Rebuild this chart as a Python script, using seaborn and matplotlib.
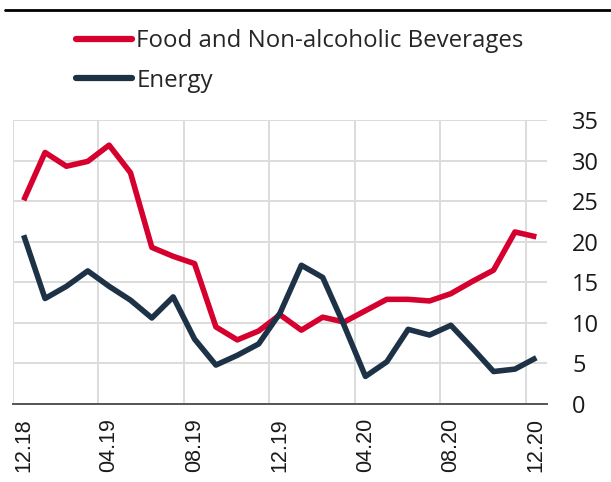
import numpy as np
import pandas as pd
import matplotlib
matplotlib.use('Agg')
import matplotlib.pyplot as plt
import seaborn as sns
from matplotlib.lines import Line2D
from matplotlib.ticker import MultipleLocator, FixedLocator

# monthly data, 12.18 - 12.20
months = ['12.18', '01.19', '02.19', '03.19', '04.19', '05.19', '06.19', '07.19',
          '08.19', '09.19', '10.19', '11.19', '12.19', '01.20', '02.20', '03.20',
          '04.20', '05.20', '06.20', '07.20', '08.20', '09.20', '10.20', '11.20', '12.20']
food = [25.1, 31.0, 29.3, 29.9, 31.9, 28.5, 19.3, 18.2, 17.3, 9.5, 7.9, 9.0, 11.0,
        9.1, 10.7, 10.1, 11.5, 12.9, 12.9, 12.7, 13.6, 15.1, 16.5, 21.2, 20.6]
energy = [20.8, 13.0, 14.5, 16.4, 14.5, 12.8, 10.6, 13.2, 8.0, 4.8, 6.0, 7.4, 11.2,
          17.1, 15.6, 9.7, 3.4, 5.2, 9.2, 8.5, 9.7, 6.9, 4.0, 4.3, 5.7]
series_names = ['Food and Non-alcoholic Beverages', 'Energy']
colors = ['#D6002F', '#1D3246']

sns.set_theme(style='white')
plt.rcParams['font.family'] = ['Open Sans', 'DejaVu Sans']

df = pd.DataFrame({
    'idx': list(range(len(months))) * 2,
    'value': food + energy,
    'series': [series_names[0]] * len(months) + [series_names[1]] * len(months),
})

fig = plt.figure(figsize=(6.11, 4.82), dpi=100)
ax = fig.add_axes([13 / 611, 1 - 404 / 482, 534 / 611, 284 / 482])

sns.lineplot(data=df, x='idx', y='value', hue='series', palette=colors,
             linewidth=4.0, ax=ax, legend=False, solid_capstyle='butt')

ax.set_xlim(-0.5, len(months) - 0.5)
ax.set_ylim(0, 35)
ax.set_xlabel('')
ax.set_ylabel('')

# x labels every 4 months, gridlines between categories
ax.xaxis.set_major_locator(FixedLocator(range(0, len(months), 4)))
ax.set_xticklabels(months[::4], rotation=90, family='Liberation Sans', fontsize=15.5)
ax.xaxis.set_minor_locator(FixedLocator(np.arange(-0.5, len(months) - 1, 4)))
ax.grid(which='minor', axis='x', color='#dcdcdc', linewidth=1.4)
ax.grid(which='major', axis='x', visible=False)

ax.yaxis.tick_right()
ax.yaxis.set_major_locator(MultipleLocator(5))
ax.grid(which='major', axis='y', color='#dcdcdc', linewidth=1.4)
ax.tick_params(axis='y', length=0, pad=18, labelsize=17, colors='#1a1a1a')
ax.tick_params(axis='x', which='both', length=0, pad=10, colors='#1a1a1a')
ax.set_axisbelow(True)

for s in ['top', 'right', 'left']:
    ax.spines[s].set_visible(False)
ax.spines['bottom'].set_color('#555555')
ax.spines['bottom'].set_linewidth(1.4)

# top rule
fig.add_artist(Line2D([5 / 611, 1], [1 - 10 / 482, 1 - 10 / 482], color='black', linewidth=2))

handles = [Line2D([], [], color=c, linewidth=4.5, solid_capstyle='round') for c in colors]
fig.legend(handles, series_names, loc='upper left', bbox_to_anchor=(76 / 611, 1 - 29 / 482),
           frameon=False, fontsize=17.3, handlelength=2.35, handletextpad=0.16,
           labelspacing=0.66, borderpad=0, borderaxespad=0)

fig.savefig('out.png', dpi=100)
